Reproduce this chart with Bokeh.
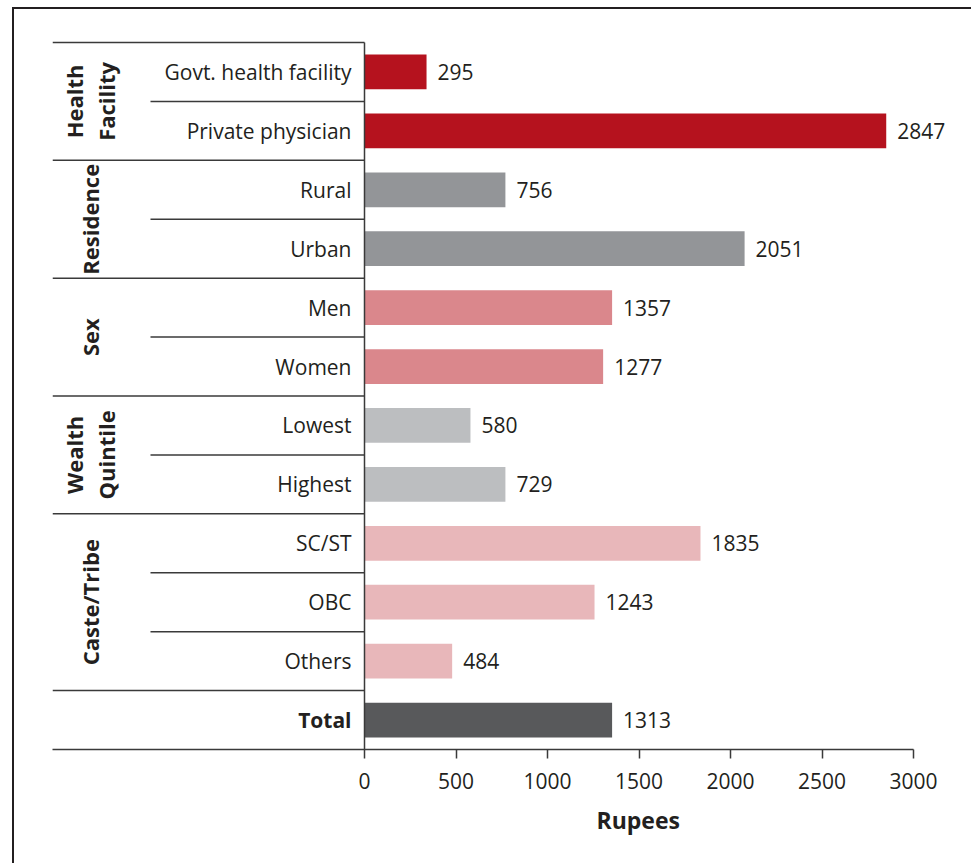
import math
from bokeh.plotting import figure
from bokeh.models import Range1d, FixedTicker, ColumnDataSource, Title
from bokeh.core.properties import value
from bokeh.embed import file_html
from bokeh.resources import INLINE

# ---------------- data ----------------
categories = ["Govt. health facility", "Private physician", "Rural", "Urban",
              "Men", "Women", "Lowest", "Highest", "SC/ST", "OBC", "Others", "Total"]
groups = ["Health\nFacility", "Health\nFacility", "Residence", "Residence",
          "Sex", "Sex", "Wealth\nQuintile", "Wealth\nQuintile",
          "Caste/Tribe", "Caste/Tribe", "Caste/Tribe", "Total"]
value_labels = [295, 2847, 756, 2051, 1357, 1277, 580, 729, 1835, 1243, 484, 1313]
bar_lengths = [339, 2851, 770, 2077, 1353, 1304, 579, 770, 1836, 1257, 479, 1353]
x_ticks = [0, 500, 1000, 1500, 2000, 2500, 3000]
x_title = "Rupees"

# ---------------- styles ----------------
palette = {"Health\nFacility": "#B5121E", "Residence": "#939598", "Sex": "#DA878C",
           "Wealth\nQuintile": "#BCBEC0", "Caste/Tribe": "#E8B7BA", "Total": "#58595B"}
FONT = value("Open Sans")
TXT = "#231f20"
LINE = "#3a3a3a"

# screenshot geometry: canvas origin after css margin + border
CX, CY = 14, 9
W, H = 959, 856
F_LEFT, F_RIGHT, F_TOP, F_BOTTOM = 52, CX + W, 38, 749
ZERO_PX, MAX_PX = 364, 913
TABLE_TOP = 42
SUB_LEFT = 150
TITLE_LEFT = 596
px_per_unit = (MAX_PX - ZERO_PX) / 3000.0
x_start = -(ZERO_PX - F_LEFT) / px_per_unit
x_end = 3000 + (F_RIGHT - MAX_PX) / px_per_unit
x_sub = -(ZERO_PX - SUB_LEFT) / px_per_unit
n = len(categories)
row_h = (F_BOTTOM - TABLE_TOP) / n
y_end = -(TABLE_TOP - F_TOP) / row_h

p = figure(width=W, height=H, x_range=Range1d(x_start, x_end), y_range=Range1d(n, y_end),
           output_backend="svg", toolbar_location=None, y_axis_location=None,
           min_border_left=F_LEFT - CX, min_border_right=0,
           min_border_top=F_TOP - CY, min_border_bottom=H - (F_BOTTOM - CY))
p.styles = {"border-top": "2px solid #231f20", "border-left": "2px solid #231f20",
            "margin-left": "12px", "margin-top": "7px"}
p.outline_line_color = None
p.grid.visible = False
p.background_fill_color = "white"
p.border_fill_color = "white"

ys = [i + 0.5 for i in range(n)]
src = ColumnDataSource(dict(
    y=ys, length=bar_lengths, color=[palette[g] for g in groups],
    cat=categories, lab=[str(v) for v in value_labels],
    style=["bold" if c == "Total" else "normal" for c in categories]))

p.hbar(y="y", left=0, right="length", height=0.59, fill_color="color",
       line_color=None, source=src)

# category labels
p.text(x=0, y="y", text="cat", x_offset=-13, text_align="right", text_baseline="middle",
       text_font=FONT, text_font_size="21px", text_font_style="style", text_color=TXT,
       source=src)
# value labels
p.text(x="length", y="y", text="lab", x_offset=11, text_align="left", text_baseline="middle",
       text_font=FONT, text_font_size="21px", text_color=TXT, source=src)

# table lines
boundaries_full = []
boundaries_sub = []
for i in range(1, n):
    if groups[i] != groups[i - 1]:
        boundaries_full.append(i)
    else:
        boundaries_sub.append(i)
boundaries_full = [0] + boundaries_full
p.segment(x0=[x_start] * len(boundaries_full), x1=[0] * len(boundaries_full),
          y0=boundaries_full, y1=boundaries_full, line_color=LINE, line_width=1.5)
p.segment(x0=[x_sub] * len(boundaries_sub), x1=[0] * len(boundaries_sub),
          y0=boundaries_sub, y1=boundaries_sub, line_color=LINE, line_width=1.5)
p.segment(x0=[0], x1=[0], y0=[0], y1=[n], line_color=LINE, line_width=1.5)

# group labels (rotated)
gx, gy, gt = [], [], []
seen = []
for g in groups:
    if g in seen or g == "Total":
        continue
    seen.append(g)
    rows = [i for i, gg in enumerate(groups) if gg == g]
    yc = (min(rows) + max(rows) + 1) / 2.0
    parts = g.split("\n")
    if len(parts) == 2:
        offs = [73 - ZERO_PX, 105 - ZERO_PX]
    else:
        offs = [89 - ZERO_PX]
    for part, o in zip(parts, offs):
        gx.append(o); gy.append(yc); gt.append(part)
gsrc = ColumnDataSource(dict(x=[0] * len(gt), xo=gx, y=gy, t=gt))
p.text(x="x", y="y", text="t", x_offset="xo", angle=math.pi / 2, text_align="center",
       text_baseline="middle", text_font=FONT, text_font_size="22px",
       text_font_style="bold", text_color=TXT, source=gsrc)

# x axis
ax = p.xaxis[0]
ax.bounds = (x_start, 3000)
ax.ticker = FixedTicker(ticks=x_ticks)
ax.axis_line_color = LINE
ax.axis_line_width = 1.5
ax.major_tick_line_color = LINE
ax.major_tick_line_width = 1.5
ax.major_tick_out = 9
ax.major_tick_in = 0
ax.minor_tick_out = 0
ax.minor_tick_in = 0
ax.major_label_text_font = "Open Sans"
ax.major_label_text_font_size = "21px"
ax.major_label_text_color = TXT
ax.major_label_standoff = 14

# axis title, placed under the 0-3000 scale
p.add_layout(Title(text=x_title, align="left", offset=TITLE_LEFT - F_LEFT,
                   text_font="Open Sans", text_font_size="23px", text_font_style="bold",
                   text_color=TXT, standoff=20), "below")

open("out.html", "w").write(file_html(p, INLINE))
